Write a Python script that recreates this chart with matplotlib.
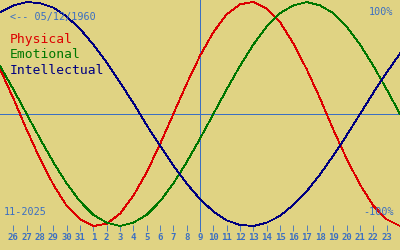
import matplotlib
matplotlib.use('Agg')
import matplotlib.pyplot as plt

# days shown, 25 Oct 2025 .. 24 Nov 2025 (index -1 .. 29)
days = list(range(-1, 30))
day_labels = ['26', '27', '28', '29', '30', '31', '1', '2', '3', '4', '5', '6', '7', '8', '9',
              '10', '11', '12', '13', '14', '15', '16', '17', '18', '19', '20', '21', '22', '23']

# cycle values in percent, read per day
physical = [40, 14, -14, -40, -63, -82, -94, -100, -98, -89, -73, -52, -27, 0, 27, 52,
            73, 89, 98, 100, 94, 82, 63, 40, 14, -14, -40, -63, -82, -94, -100]
emotional = [43, 22, 0, -22, -43, -62, -78, -90, -97, -100, -97, -90, -78, -62, -43, -22,
             0, 22, 43, 62, 78, 90, 97, 100, 97, 90, 78, 62, 43, 22, 0]
intellectual = [91, 97, 100, 99, 95, 87, 76, 62, 46, 28, 10, -10, -28, -46, -62, -76,
                -87, -95, -99, -100, -97, -91, -81, -69, -54, -37, -19, 0, 19, 37, 54]

today = 14
birth = '05/12/1960'
month = '11-2025'

bg = '#e0d383'
blue = '#3b6fc2'
cols = {'Physical': '#dd0000', 'Emotional': '#007700', 'Intellectual': '#000080'}

fig = plt.figure(figsize=(4, 2.5), dpi=100)
fig.patch.set_facecolor(bg)
ax = fig.add_axes([0, 0, 1, 1])
ax.set_facecolor(bg)

px = 0.6  # about one pixel

for name, vals in [('Physical', physical), ('Emotional', emotional), ('Intellectual', intellectual)]:
    ax.plot(days, vals, color=cols[name], lw=px, antialiased=False)

ax.axhline(0, color=blue, lw=px, antialiased=False, zorder=1)
ax.vlines(today, -104.5, 101.8, color=blue, lw=px, antialiased=False, zorder=1)

ax.set_xlim(-1, 29)
ax.set_ylim(-121.4, 101.8)

for s in ['top', 'left', 'right']:
    ax.spines[s].set_visible(False)
ax.spines['bottom'].set_position(('axes', 0.076))
ax.spines['bottom'].set_visible(False)
ax.set_yticks([])
ax.set_xticks(range(0, 29))
ax.set_xticklabels(day_labels, family='DejaVu Sans Mono', fontsize=6.5, color=blue,
                   weight='bold')
ax.tick_params(axis='x', direction='in', length=4.3, width=px, color=blue, pad=1.8)

mono = 'DejaVu Sans Mono'
ax.text(10 / 400, 1 - 16.7 / 250, '<-- ' + birth, transform=ax.transAxes, family=mono,
        fontsize=7.3, color=blue, va='center', ha='left')
ax.text(393 / 400, 1 - 12 / 250, '100%', transform=ax.transAxes, family=mono,
        fontsize=7.3, color=blue, va='center', ha='right')
ax.text(394 / 400, 1 - 212 / 250, '-100%', transform=ax.transAxes, family=mono,
        fontsize=7.3, color=blue, va='center', ha='right')
ax.text(4 / 400, 1 - 212 / 250, month, transform=ax.transAxes, family=mono,
        fontsize=7.3, color=blue, va='center', ha='left')

for i, name in enumerate(['Physical', 'Emotional', 'Intellectual']):
    ax.text(10 / 400, 1 - (43.5 + 15 * i) / 250, name, transform=ax.transAxes, family=mono,
            fontsize=9.4, color=cols[name], va='baseline', ha='left')

fig.savefig('out.png', dpi=100, facecolor=bg)
